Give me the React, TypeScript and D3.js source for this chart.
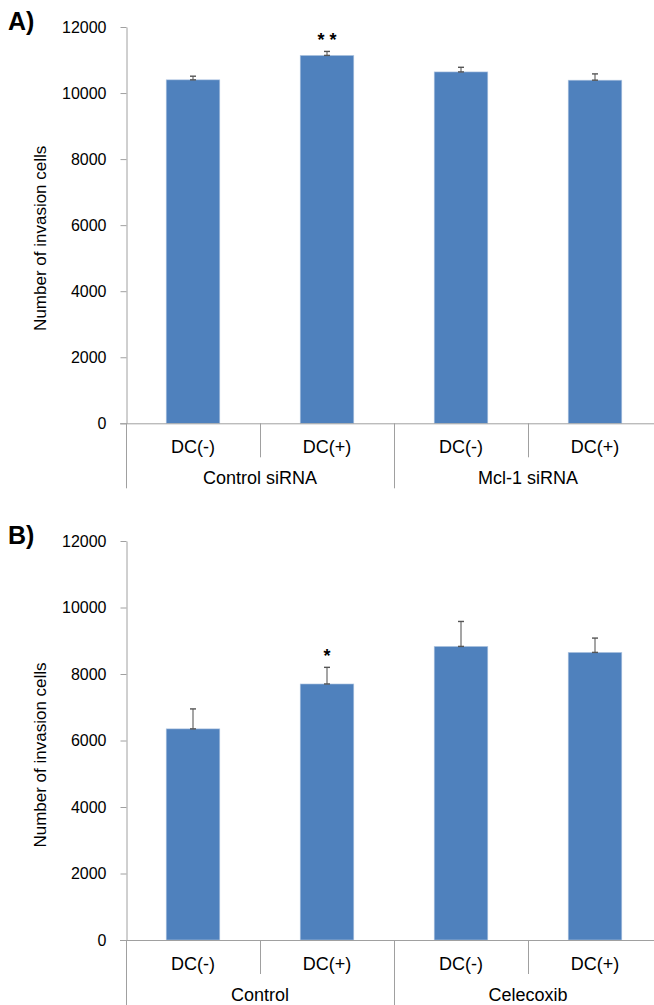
import React, { useEffect, useRef } from "react";
import * as d3 from "d3";

// categories and values
const categories = ["DC(-)", "DC(+)", "DC(-)", "DC(+)"];
const yTicks = [0, 2000, 4000, 6000, 8000, 10000, 12000];

const groupsA = ["Control siRNA", "Mcl-1 siRNA"];
const valuesA = [10400, 11140, 10640, 10390];
const errorsA = [110, 120, 140, 190];
const marksA = ["", "* *", "", ""];

const groupsB = ["Control", "Celecoxib"];
const valuesB = [6350, 7700, 8830, 8650];
const errorsB = [600, 500, 750, 430];
const marksB = ["", "*", "", ""];

const FONT = "'Liberation Sans', Arial, sans-serif";
const BAR = "#4f81bd";
const AXIS = "#a0a0a0";

const App = () => {
  const svgRef = useRef<SVGSVGElement | null>(null);

  useEffect(() => {
    if (!svgRef.current) return;
    const svg = d3.select(svgRef.current);
    svg.selectAll("*").remove();

    const width = 654;
    const height = 1005;
    svg.attr("width", width).attr("height", height);

    const left = 126;
    const band = 134;

    const x = d3
      .scaleBand<number>()
      .domain(d3.range(categories.length))
      .range([left, left + band * categories.length])
      .paddingInner(0)
      .paddingOuter(0);

    const drawPanel = (
      label: string,
      top: number,
      zero: number,
      values: number[],
      errors: number[],
      marks: string[],
      groups: string[]
    ) => {
      const g = svg.append("g");
      const y = d3.scaleLinear().domain([0, 12000]).range([zero, top]);

      // panel letter
      g.append("text")
        .attr("x", 8)
        .attr("y", top + 3)
        .attr("font-family", FONT)
        .attr("font-size", 25)
        .attr("font-weight", "bold")
        .text(label);

      // y axis
      const axis = d3
        .axisLeft(y)
        .tickValues(yTicks)
        .tickSize(6)
        .tickSizeOuter(0)
        .tickPadding(14)
        .tickFormat((d) => String(d));

      const ax = g
        .append("g")
        .attr("transform", `translate(${left + 0.5},0)`)
        .call(axis);
      ax.select(".domain").attr("stroke", AXIS);
      ax.selectAll(".tick line").attr("stroke", AXIS);
      ax.selectAll(".tick text")
        .attr("font-family", FONT)
        .attr("font-size", 16)
        .attr("fill", "#000");

      // y axis title
      g.append("text")
        .attr("transform", `translate(46,${zero - 185}) rotate(-90)`)
        .attr("text-anchor", "middle")
        .attr("font-family", FONT)
        .attr("font-size", 17)
        .text("Number of invasion cells");

      // bars
      g.selectAll("rect.bar")
        .data(values)
        .enter()
        .append("rect")
        .attr("class", "bar")
        .attr("x", (_, i) => (x(i) as number) + band * 0.3)
        .attr("width", band * 0.4)
        .attr("y", (d) => y(d))
        .attr("height", (d) => zero - y(d))
        .attr("fill", BAR)
        .attr("stroke", "#b4c8e2")
        .attr("stroke-width", 0.6);

      // error bars (plus direction)
      const cx = (i: number) => (x(i) as number) + band / 2;
      const err = g.append("g").attr("stroke", "#7f7f7f").attr("stroke-width", 1.4);
      values.forEach((v, i) => {
        const c = cx(i);
        const y0 = y(v);
        const y1 = y(v + errors[i]);
        err.append("line").attr("x1", c).attr("x2", c).attr("y1", y0).attr("y2", y1);
        err.append("line").attr("x1", c - 3).attr("x2", c + 3).attr("y1", y1).attr("y2", y1).attr("stroke", "#555");
        err.append("line").attr("x1", c - 3).attr("x2", c + 3).attr("y1", y0).attr("y2", y0).attr("stroke", "#555");
        if (marks[i]) {
          g.append("text")
            .attr("x", c)
            .attr("y", y1 - 5)
            .attr("text-anchor", "middle")
            .attr("font-family", FONT)
            .attr("font-size", 18)
            .attr("font-weight", "bold")
            .text(marks[i]);
        }
      });

      // x axis line
      g.append("line")
        .attr("x1", left - 6)
        .attr("x2", width)
        .attr("y1", zero + 0.5)
        .attr("y2", zero + 0.5)
        .attr("stroke", AXIS);

      // category separators
      const sep = g.append("g").attr("stroke", AXIS);
      d3.range(categories.length + 1).forEach((i) => {
        const xx = left + band * i + 0.5;
        const long = i % 2 === 0;
        sep.append("line")
          .attr("x1", xx)
          .attr("x2", xx)
          .attr("y1", zero)
          .attr("y2", zero + (long ? 65 : 34));
      });

      // category labels
      g.selectAll("text.cat")
        .data(categories)
        .enter()
        .append("text")
        .attr("class", "cat")
        .attr("x", (_, i) => cx(i))
        .attr("y", zero + 30)
        .attr("text-anchor", "middle")
        .attr("font-family", FONT)
        .attr("font-size", 18)
        .text((d) => d);

      // group labels
      g.selectAll("text.grp")
        .data(groups)
        .enter()
        .append("text")
        .attr("class", "grp")
        .attr("x", (_, i) => left + band * (2 * i + 1))
        .attr("y", zero + 61)
        .attr("text-anchor", "middle")
        .attr("font-family", FONT)
        .attr("font-size", 18)
        .text((d) => d);
    };

    drawPanel("A)", 27, 423.3, valuesA, errorsA, marksA, groupsA);
    drawPanel("B)", 541, 940, valuesB, errorsB, marksB, groupsB);
  }, []);

  return (
    <div>
      <svg ref={svgRef} style={{ position: "absolute", left: 0, top: 0, background: "#fff" }}></svg>
    </div>
  );
};

export default App;
